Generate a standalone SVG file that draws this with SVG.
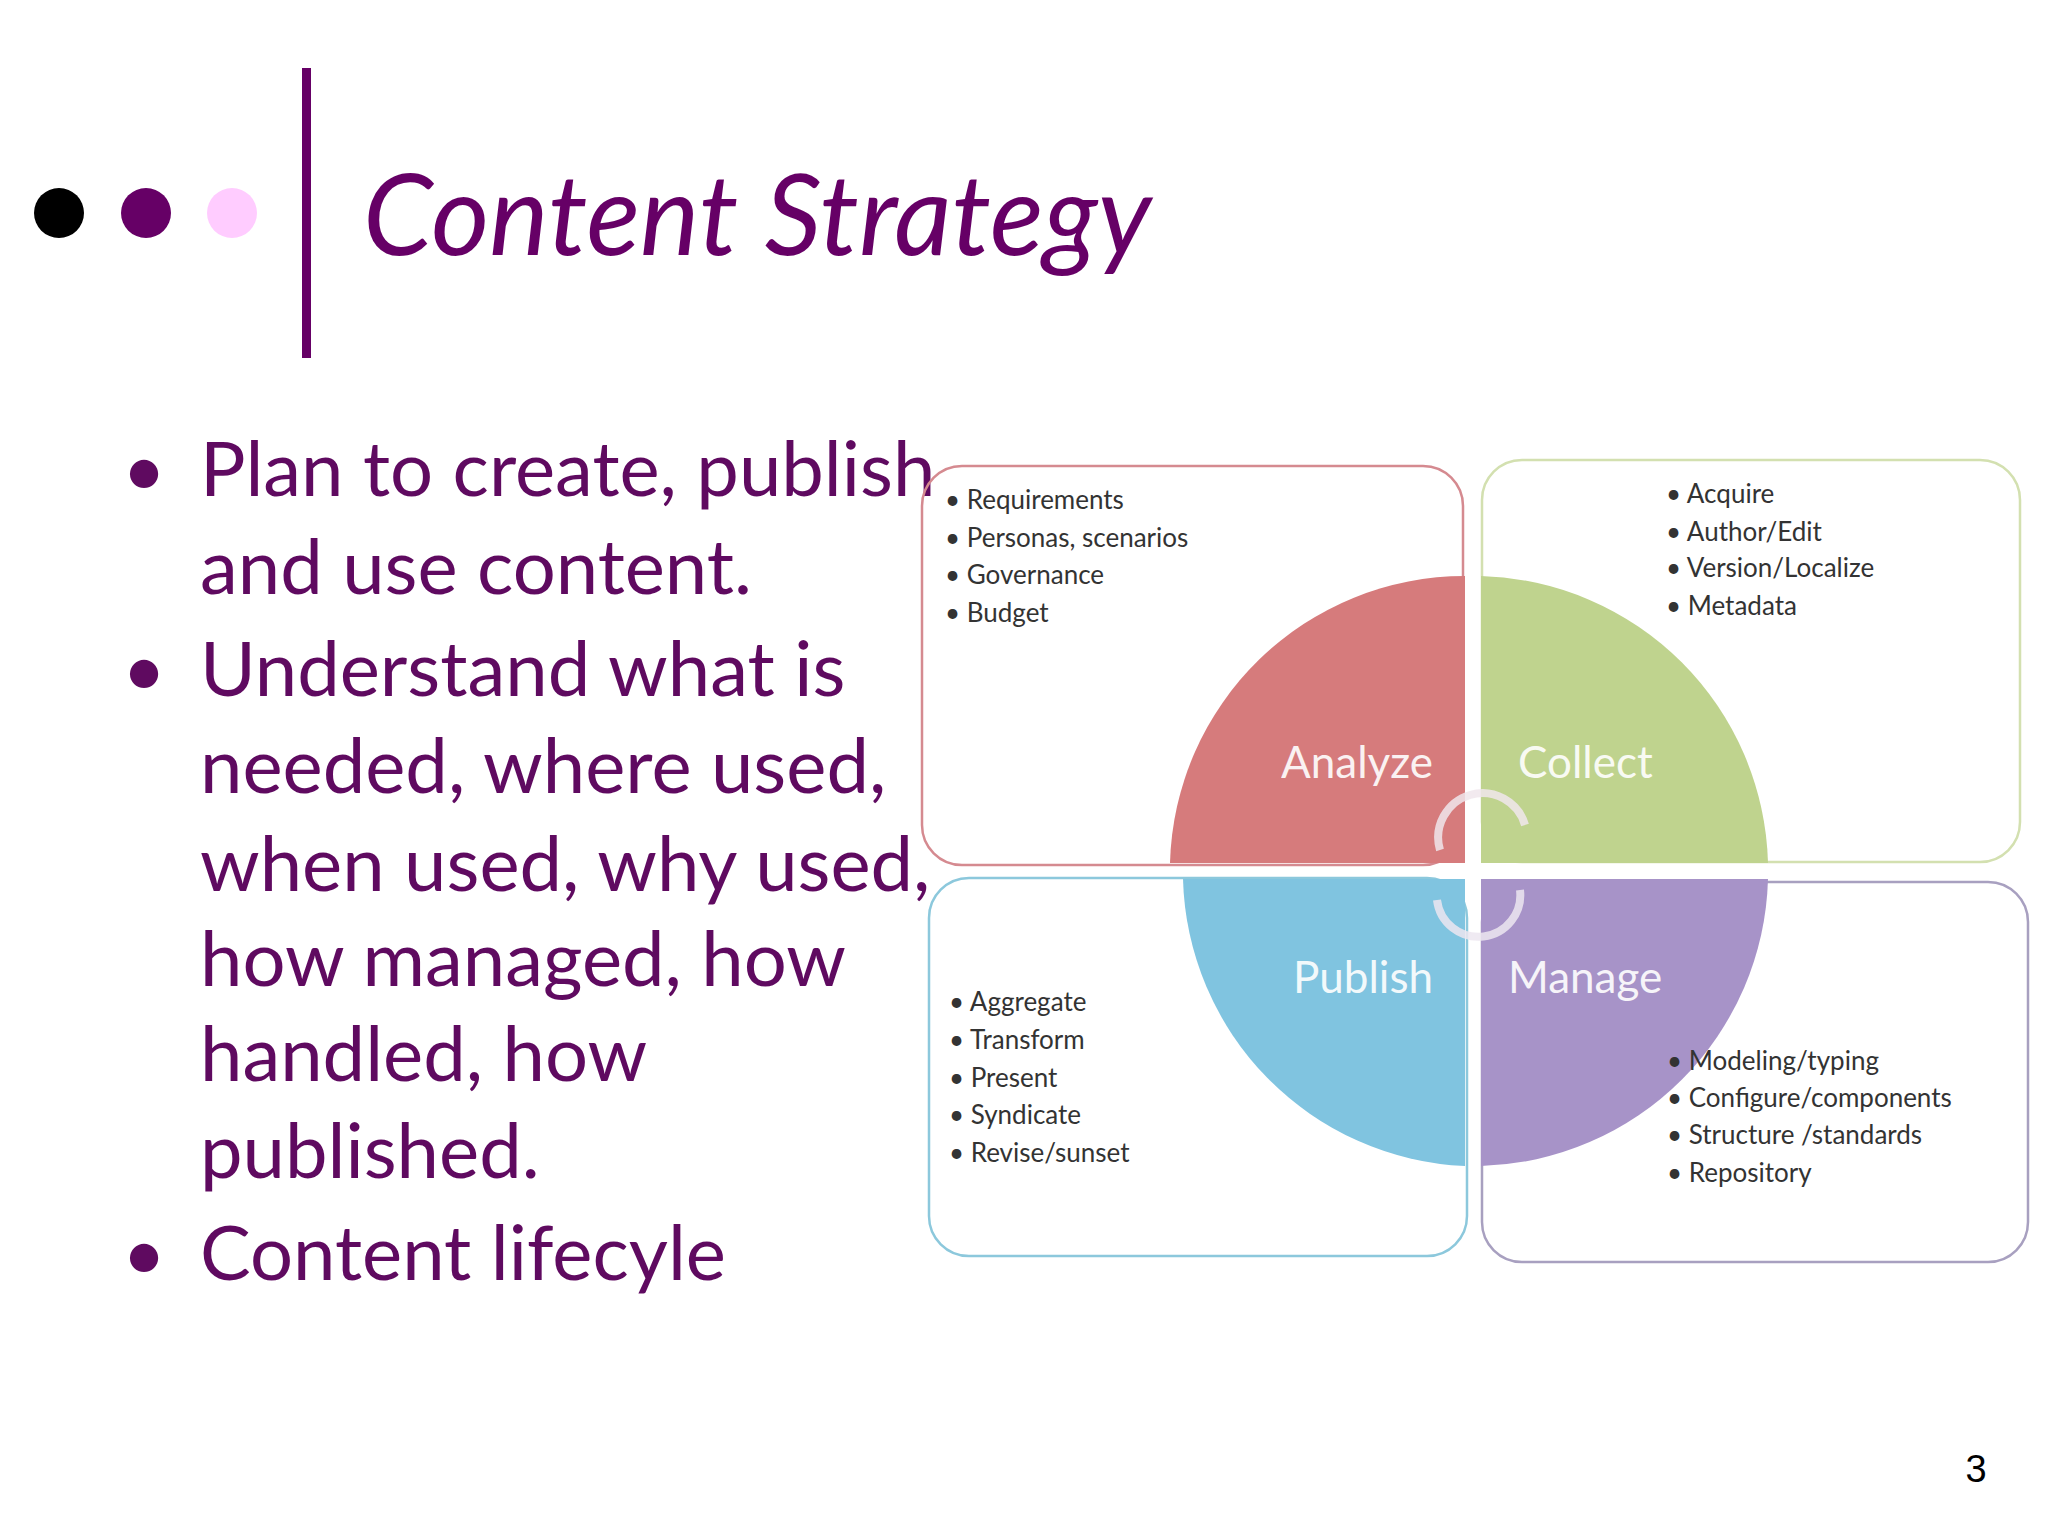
<svg xmlns="http://www.w3.org/2000/svg" width="2048" height="1536" viewBox="0 0 2048 1536">
<style>
.main{font-family:Lato,"Open Sans",sans-serif;font-size:76px;fill:#5f0a60}
.box{fill:none;stroke-width:2.5}
.lst{font-family:Lato,"Open Sans",sans-serif;font-size:26px;fill:#333}
.q{font-family:Lato,"Open Sans",sans-serif;font-size:44px;fill:#fff;opacity:0.9}
</style>
<rect width="2048" height="1536" fill="#fff"/>
<g id="header">
<circle cx="59" cy="213" r="25" fill="#000"/>
<circle cx="146" cy="213" r="25" fill="#660066"/>
<circle cx="232" cy="213" r="25" fill="#ffccff"/>
<rect x="302" y="68" width="9" height="290" fill="#660066"/>
<text x="363" y="255" font-family="Lato,'Open Sans',sans-serif" font-style="italic" font-size="112" fill="#660066">Content Strategy</text>
</g>
<g id="bullets" class="main">
<text x="122" y="496">•</text><text x="200" y="496">Plan to create, publish</text>
<text x="200" y="594">and use content.</text>
<text x="122" y="696">•</text><text x="200" y="696">Understand what is</text>
<text x="200" y="793">needed, where used,</text>
<text x="200" y="891">when used, why used,</text>
<text x="200" y="986">how managed, how</text>
<text x="200" y="1081">handled, how</text>
<text x="200" y="1178">published.</text>
<text x="122" y="1280">•</text><text x="200" y="1280">Content lifecyle</text>
</g>
<g id="boxes">
<rect class="box" x="922" y="466" width="541" height="399" rx="40" stroke="#d58a90"/>
<rect class="box" x="1482" y="460" width="538" height="402" rx="40" stroke="#d3e0b0"/>
<rect class="box" x="929" y="878" width="538" height="378" rx="40" stroke="#8cc8dc"/>
<rect class="box" x="1482" y="882" width="546" height="380" rx="40" stroke="#a8a0c0"/>
</g>
<g id="circle">
<path d="M1465,863 L1170,863 A295,295 0 0 1 1465,576 Z" fill="#d67b7c"/>
<path d="M1481,863 L1481,576 A295,295 0 0 1 1768,863 Z" fill="#bfd38e"/>
<path d="M1465,879 L1465,1166 A295,295 0 0 1 1183,879 Z" fill="#80c4e0"/>
<path d="M1481,879 L1768,879 A295,295 0 0 1 1481,1166 Z" fill="#a793c8"/>
<path d="M1440,850 A38,38 0 0 1 1525,825" fill="none" stroke="#f0e6ec" stroke-width="8" opacity="0.85"/>
<path d="M1520,890 A38,38 0 0 1 1437,900" fill="none" stroke="#ece6f0" stroke-width="8" opacity="0.85"/>
</g>
<g id="labels" class="q">
<text x="1433" y="778" text-anchor="end">Analyze</text>
<text x="1518" y="778">Collect</text>
<text x="1433" y="993" text-anchor="end">Publish</text>
<text x="1508" y="993">Manage</text>
</g>
<g id="lists" class="lst">
<text x="945" y="509">• Requirements</text>
<text x="945" y="547">• Personas, scenarios</text>
<text x="945" y="584">• Governance</text>
<text x="945" y="622">• Budget</text>
<text x="1666" y="503">• Acquire</text>
<text x="1666" y="541">• Author/Edit</text>
<text x="1666" y="577">• Version/Localize</text>
<text x="1666" y="615">• Metadata</text>
<text x="949" y="1011">• Aggregate</text>
<text x="949" y="1049">• Transform</text>
<text x="949" y="1087">• Present</text>
<text x="949" y="1124">• Syndicate</text>
<text x="949" y="1162">• Revise/sunset</text>
<text x="1667" y="1070">• Modeling/typing</text>
<text x="1667" y="1107">• Configure/components</text>
<text x="1667" y="1144">• Structure /standards</text>
<text x="1667" y="1182">• Repository</text>
</g>
<text x="1976" y="1482" font-family="Liberation Sans,sans-serif" font-size="38" fill="#000" text-anchor="middle">3</text>
</svg>
